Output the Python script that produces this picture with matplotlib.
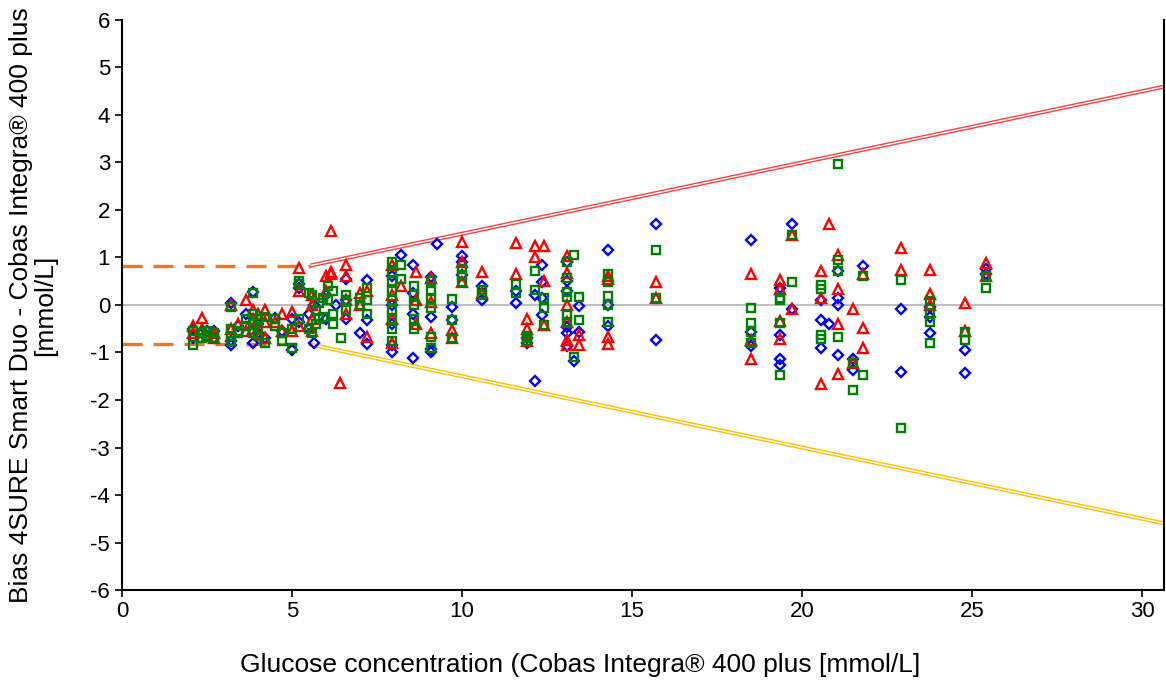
import matplotlib
matplotlib.use("Agg")
import matplotlib.pyplot as plt
import numpy as np

plt.rcParams['font.family'] = ['Liberation Sans', 'DejaVu Sans']
plt.rcParams['axes.unicode_minus'] = False

# ---- data: (glucose reference value, [bias values]) ----
blue_groups = [
    (2.1, [-0.5, -0.7]), (2.35, [-0.6]), (2.5, [-0.55]), (2.7, [-0.55, -0.7]),
    (3.2, [0.05, -0.75, -0.85]), (3.4, [-0.45]), (3.65, [-0.2]), (3.85, [0.28, -0.8]),
    (4.0, [-0.4, -0.6]), (4.2, [-0.7]), (4.5, [-0.27]), (4.7, [-0.55]),
    (5.0, [-0.95, -0.3]), (5.2, [0.45, 0.35, -0.35]), (5.5, [-0.2, -0.5]),
    (5.65, [-0.8, 0.0]), (6.0, [0.2, -0.3]), (6.3, [0.0]), (6.6, [0.55, 0.1, -0.3]),
    (7.0, [-0.6]), (7.2, [0.53, -0.32, -0.82]), (7.95, [0.6, 0.0, -0.4, -0.85, -1.0]),
    (8.2, [1.05]), (8.55, [0.84, -1.12, -0.2, 0.25]), (9.1, [0.58, -0.25, -0.92, -1.0]),
    (9.25, [1.28]), (9.7, [-0.04, -0.32]), (10.0, [1.03, 0.91, 0.63]), (10.6, [0.4, 0.1]),
    (11.6, [0.04, 0.3]), (11.9, [-0.8, -0.7]), (12.15, [-1.6, 0.2]),
    (12.35, [0.84, 0.49, 0.15, -0.21]), (13.1, [0.91, 0.5, 0.3, -0.46, -0.6, -0.86]),
    (13.3, [-1.18]), (13.45, [-0.02, -0.57]), (14.3, [1.16, -0.44, 0.0]),
    (15.7, [1.7, -0.74]), (18.5, [1.37, -0.57, -0.86]), (19.35, [0.36, -0.63, -1.14, -1.26]),
    (19.7, [1.7, -0.08]), (20.55, [0.1, -0.32, -0.9]), (20.8, [-0.4]),
    (21.05, [0.72, 0.15, 0.0, -1.05]), (21.5, [-1.14, -1.37]), (21.8, [0.82]),
    (22.9, [-0.08, -1.41]), (23.76, [-0.05, -0.25, -0.59]), (24.8, [-0.95, -1.43]),
    (25.4, [0.76, 0.65]),
]
red_groups = [
    (2.1, [-0.45, -0.6]), (2.35, [-0.27, -0.5]), (2.5, [-0.65]), (2.7, [-0.6, -0.7]),
    (3.2, [0.0, -0.5]), (3.4, [-0.4]), (3.65, [0.1, -0.55]), (3.85, [-0.1, -0.5, -0.3]),
    (4.0, [-0.2, -0.6]), (4.2, [-0.1, -0.35, -0.7]), (4.5, [-0.35]), (4.7, [-0.2, -0.55]),
    (5.0, [-0.55, -0.15]), (5.2, [0.78, 0.3, -0.45]), (5.6, [-0.3, 0.0, 0.2, -0.55]),
    (6.0, [0.6, 0.3]), (6.15, [0.65, 0.7, 1.55]), (6.4, [-1.65]),
    (6.6, [0.85, 0.6, 0.1, -0.2]), (7.0, [0.0, 0.25]), (7.2, [0.3, -0.67]),
    (7.95, [0.85, 0.2, -0.3, -0.8]), (8.2, [0.4]), (8.65, [0.7, 0.1, -0.4]),
    (9.1, [0.56, 0.07, -0.6]), (9.7, [-0.53, -0.7]), (10.0, [1.33, 0.91, 0.49]),
    (10.6, [0.7, 0.25]), (11.6, [1.3, 0.65]), (11.9, [-0.3, -0.5, -0.75]),
    (12.15, [1.24, 1.0]), (12.4, [1.24, 0.5, -0.42]),
    (13.1, [1.03, 0.68, 0.0, -0.35, -0.74, -0.84]), (13.45, [-0.63, -0.84]),
    (14.3, [0.6, 0.55, -0.67, -0.82]), (15.7, [0.49, 0.15]), (18.5, [0.65, -0.74, -1.14]),
    (19.35, [0.53, 0.33, -0.34, -0.72]), (19.7, [1.48, -0.08]), (20.55, [0.72, 0.15, -1.66]),
    (20.8, [1.7]), (21.05, [1.05, 0.34, -0.4, -1.45]), (21.5, [-0.08, -1.22]),
    (21.8, [0.65, -0.48, -0.9]), (22.9, [1.2, 0.74]), (23.76, [0.74, 0.23, 0.0]),
    (24.8, [0.04, -0.55]), (25.4, [0.88, 0.6]),
]
green_groups = [
    (2.1, [-0.55, -0.84]), (2.35, [-0.6, -0.7]), (2.5, [-0.65, -0.55]), (2.7, [-0.6, -0.7]),
    (3.2, [-0.05, -0.5, -0.65, -0.75]), (3.4, [-0.55, -0.6]), (3.65, [-0.3, -0.45]),
    (3.85, [0.25, -0.2, -0.4, -0.6]), (4.0, [-0.3, -0.5, -0.65]), (4.2, [-0.25, -0.8]),
    (4.5, [-0.45, -0.3]), (4.7, [-0.6, -0.75]), (5.0, [-0.9, -0.5]),
    (5.2, [0.45, 0.5, -0.3]), (5.5, [0.25, -0.5]), (5.6, [0.2, -0.6]), (5.7, [-0.1, -0.4]),
    (5.8, [-0.3, 0.05]), (5.9, [0.15, -0.25]), (6.05, [0.4, 0.1]), (6.2, [0.3, -0.2, -0.4]),
    (6.45, [-0.7]), (6.6, [0.1, 0.2, -0.1]), (7.0, [0.0, 0.15]), (7.2, [0.35, 0.1, -0.2]),
    (7.95, [0.91, 0.7, 0.5, 0.3, 0.1, -0.1, -0.3, -0.5, -0.75]), (8.2, [0.84, 0.55]),
    (8.6, [0.4, 0.2, 0.0, -0.3, -0.5]), (9.1, [0.5, 0.3, 0.15, -0.06, -0.67, -0.9]),
    (9.7, [0.13, -0.32, -0.7]), (10.0, [0.76, 0.63, 0.49]), (10.6, [0.32, 0.21]),
    (11.6, [0.44, 0.26]), (11.9, [-0.65, -0.7, -0.75]), (12.15, [0.72, 0.32]),
    (12.4, [0.15, -0.06, -0.42]), (13.1, [0.91, 0.56, 0.28, 0.17, -0.21, -0.35]),
    (13.3, [1.05, -1.1]), (13.45, [0.17, -0.32]), (14.3, [0.65, 0.49, 0.18, 0.0, -0.35]),
    (15.7, [1.16, 0.15]), (18.5, [-0.06, -0.38, -0.57, -0.8]),
    (19.35, [0.1, 0.15, -0.38, -1.47]), (19.7, [1.48, 0.49]),
    (20.55, [0.42, 0.34, -0.63, -0.72]), (21.05, [2.97, 0.95, 0.72, -0.67]),
    (21.5, [-1.22, -1.79]), (21.8, [0.6, -1.47]), (22.9, [0.53, -2.59]),
    (23.76, [0.08, -0.17, -0.36, -0.8]), (24.8, [-0.57, -0.74]), (25.4, [0.6, 0.36]),
]

limit_abs = 0.83        # mmol/L below breakpoint
limit_rel = 0.15        # 15 % above breakpoint
breakpoint_x = 5.55
x_max = 30.65


def expand(groups):
    xs, ys = [], []
    for gx, vals in groups:
        for v in vals:
            xs.append(gx)
            ys.append(v)
    return np.array(xs), np.array(ys)


fig = plt.figure(figsize=(11.66, 6.84), dpi=100)
ax = fig.add_axes([0.1046, 0.1374, 0.8939, 0.8334])

ax.set_xlim(0, x_max)
ax.set_ylim(-6, 6)

# zero line
ax.plot([0, x_max], [0, 0], color='#BFBFBF', lw=1.5, zorder=1)

# acceptance limits: dashed absolute part
for s in (1, -1):
    ax.plot([0, breakpoint_x], [s * limit_abs, s * limit_abs], color='#F4731F',
            lw=2.4, linestyle=(0, (6, 3.3)), zorder=2, solid_capstyle='butt')

# double lines for relative part
xr = np.array([breakpoint_x, x_max])
for s, col in ((1, '#FF4040'), (-1, '#FFC000')):
    ax.plot(xr, s * limit_rel * xr, color=col, lw=3.0, zorder=2, solid_capstyle='butt')
    ax.plot(xr, s * limit_rel * xr, color='white', lw=1.0, zorder=2, solid_capstyle='butt')

bx, by = expand(blue_groups)
rx, ry = expand(red_groups)
gx, gy = expand(green_groups)

ax.plot(bx, by, linestyle='none', marker='D', ms=5.6, mfc='none', mec='#0000FF', mew=1.7, zorder=3)
ax.plot(rx, ry, linestyle='none', marker='^', ms=7.2, mfc='none', mec='#FF0000', mew=1.7, zorder=4)
ax.plot(gx, gy, linestyle='none', marker='s', ms=6.4, mfc='none', mec='#008000', mew=1.7, zorder=5)

ax.set_xticks(range(0, 31, 5))
ax.set_yticks(range(-6, 7, 1))
ax.tick_params(axis='both', labelsize=16, direction='out', length=5, width=1.2, colors='black')
ax.tick_params(axis='x', pad=3)
ax.spines['top'].set_visible(False)
for sp in ('left', 'bottom', 'right'):
    ax.spines[sp].set_linewidth(1.5)
    ax.spines[sp].set_color('black')

ax.set_xlabel('Glucose concentration (Cobas Integra® 400 plus [mmol/L]', fontsize=19)
ax.xaxis.set_label_coords(0.44, -0.131, transform=ax.transAxes)
ax.xaxis.label.set_va('center')
ax.set_ylabel('Bias 4SURE Smart Duo - Cobas Integra® 400 plus\n[mmol/L]', fontsize=19,
              linespacing=1.0)
ax.yaxis.set_label_coords(-0.062, 0.5, transform=ax.transAxes)

fig.savefig('out.png', dpi=100)
